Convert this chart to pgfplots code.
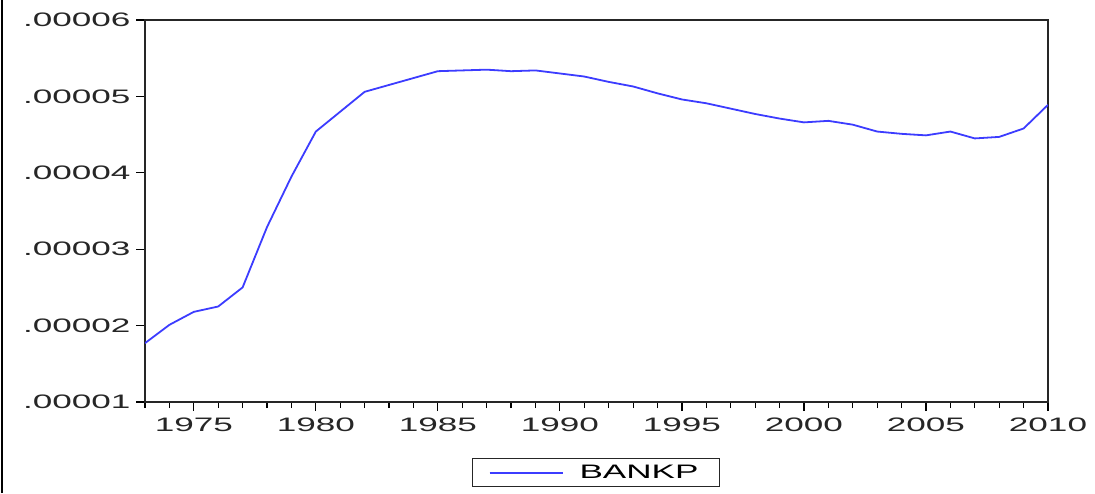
\documentclass[border=0pt]{standalone}
\usepackage{pgfplots}
\pgfplotsset{compat=1.18}
\usepackage{fontspec}
\setmainfont[FakeStretch=1.8]{Liberation Sans}
\definecolor{lineblue}{RGB}{60,60,255}
\begin{document}
\begin{tikzpicture}[x=1pt,y=1pt]
\useasboundingbox (0,0) rectangle (1095,493);
\draw[line width=1.4pt] (2,0) -- (2,493);
\begin{axis}[
  at={(145pt,91pt)}, anchor=south west,
  scale only axis, width=903pt, height=382pt,
  xmin=1973, xmax=2010, ymin=0.00001, ymax=0.00006,
  scaled y ticks=false,
  axis line style={line width=1.3pt, black!85},
  xtick={1975,1980,1985,1990,1995,2000,2005,2010},
  xticklabels={1975,1980,1985,1990,1995,2000,2005,2010},
  minor xtick={1973,1974,1976,1977,1978,1979,1981,1982,1983,1984,1986,1987,1988,1989,1991,1992,1993,1994,1996,1997,1998,1999,2001,2002,2003,2004,2006,2007,2008,2009},
  ytick={0.00001,0.00002,0.00003,0.00004,0.00005,0.00006},
  yticklabels={.00001,.00002,.00003,.00004,.00005,.00006},
  xtick pos=lower, ytick pos=left,
  tick align=outside,
  major tick length=9pt, minor tick length=6pt,
  every tick/.style={line width=1.2pt, black},
  ticklabel style={font=\fontsize{19.5}{20}\selectfont, text=black!85},
  yticklabel style={xshift=-2pt},
  xticklabel style={yshift=-3pt},
  legend style={at={(0.4995,-0.1466)}, anchor=north, draw=black!85, line width=1.2pt,
    font=\fontsize{19.5}{20}\selectfont, inner xsep=0pt, inner ysep=5pt,
    nodes={inner sep=0pt}, column sep=0pt},
  legend cell align=left,
  legend image code/.code={\path[draw=none,fill=none] (0pt,-9pt) rectangle (107pt,9pt);\draw[#1] (17pt,0pt) -- (90pt,0pt);},
]
\addplot[lineblue, line width=1.8pt] coordinates {
(1973,1.77e-5) (1974,2.01e-5) (1975,2.18e-5) (1976,2.25e-5) (1977,2.50e-5)
(1978,3.29e-5) (1979,3.95e-5) (1980,4.54e-5) (1981,4.80e-5) (1982,5.06e-5)
(1983,5.15e-5) (1984,5.24e-5) (1985,5.33e-5) (1986,5.34e-5) (1987,5.35e-5)
(1988,5.33e-5) (1989,5.34e-5) (1990,5.30e-5) (1991,5.26e-5) (1992,5.19e-5)
(1993,5.13e-5) (1994,5.04e-5) (1995,4.96e-5) (1996,4.91e-5) (1997,4.84e-5)
(1998,4.77e-5) (1999,4.71e-5) (2000,4.66e-5) (2001,4.68e-5) (2002,4.63e-5)
(2003,4.54e-5) (2004,4.51e-5) (2005,4.49e-5) (2006,4.54e-5) (2007,4.45e-5)
(2008,4.47e-5) (2009,4.58e-5) (2010,4.89e-5)
};
\addlegendentry{BANKP\hspace*{21pt}}
\end{axis}
\end{tikzpicture}
\end{document}
